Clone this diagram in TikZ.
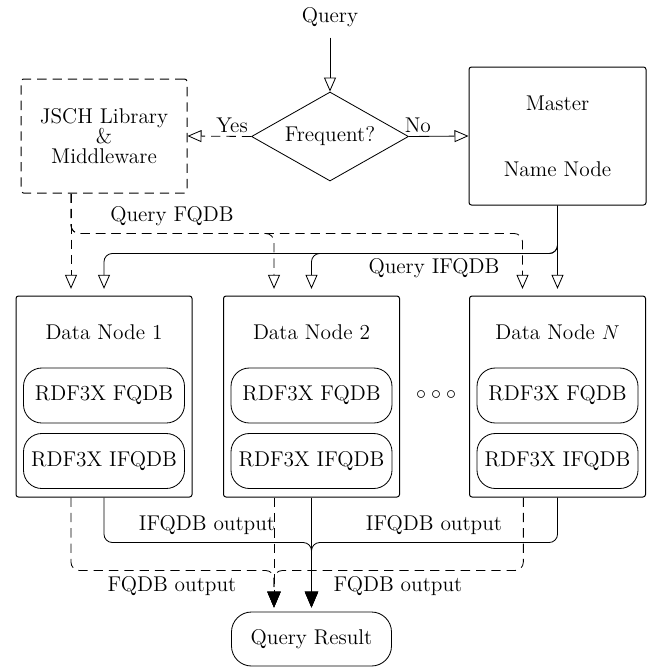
\documentclass[tikz,border=0pt]{standalone}
\usetikzlibrary{arrows.meta,shapes.geometric}
\begin{document}
\begin{tikzpicture}[x=0.6pt,y=-0.6pt,
  line width=0.5pt,
  every node/.style={font=\fontsize{12.8pt}{12pt}\selectfont},
  box/.style={draw, rectangle, rounded corners=1.5pt, line width=0.6pt},
  dsh/.style={dash pattern=on 5.6pt off 3.6pt},
  dbox/.style={box, dsh},
  dnode/.style={box, minimum width=105.6pt, minimum height=120.6pt},
  inbox/.style={draw, rounded corners=11pt, minimum width=96.6pt, minimum height=33pt},
  oarrow/.style={-{Triangle[open,length=8.4pt,width=7.2pt]}},
  farrow/.style={-{Triangle[length=9.6pt,width=8pt]}},
  route/.style={rounded corners=5pt}]
\useasboundingbox (0,0) rectangle (654,667);

% nodes
\node (q) at (330,17) {Query};
\node[draw, diamond, aspect=1.76, inner sep=0pt, minimum width=94.2pt, minimum height=53.4pt] (freq) at (330,136.5) {Frequent?};
\node[dbox, minimum width=99.6pt, minimum height=68.4pt, align=center] (jsch) at (104,136) {JSCH Library\\\&\\Middleware};
\node[box, minimum width=106.2pt, minimum height=82.8pt, align=center] (master) at (557.5,136) {Master\\[27.6pt]Name Node};

\node[dnode] (d1) at (104,396.5) {};
\node[dnode] (d2) at (311.5,396.5) {};
\node[dnode] (dn) at (557.5,396.5) {};
\node (t1) at (104,332) {Data Node 1};
\node (t2) at (311.5,332) {Data Node 2};
\node (tn) at (557.5,332) {Data Node $N$};
\node[inbox] (f1) at (104,395.5) {RDF3X FQDB};
\node[inbox] (i1) at (104,461) {RDF3X IFQDB};
\node[inbox] (f2) at (311.5,395.5) {RDF3X FQDB};
\node[inbox] (i2) at (311.5,461) {RDF3X IFQDB};
\node[inbox] (fn) at (557.5,395.5) {RDF3X FQDB};
\node[inbox] (in) at (557.5,461) {RDF3X IFQDB};
\node (dots) at (436,395) {$\circ$\hspace{3pt}$\circ$\hspace{3pt}$\circ$};

\node[draw, rounded corners=12pt, minimum width=96pt, minimum height=32.4pt] (res) at (311.5,639) {Query Result};

% labels
\node (lqf) at (172,216) {Query FQDB};
\node (lqi) at (434,268) {Query IFQDB};
\node (lio1) at (207,525) {IFQDB output};
\node (lio2) at (434,525) {IFQDB output};
\node (lfo1) at (172,586) {FQDB output};
\node (lfo2) at (398,586) {FQDB output};

% top connectors
\draw[oarrow, shorten <=3pt] (q.south) -- (freq.north);
\draw[oarrow, dsh] (freq.west) -- (jsch.east) node[pos=0.3, above, inner sep=2pt] (lyes) {Yes};
\draw[oarrow] (freq.east) -- (master.west) node[pos=0.15, above, inner sep=2pt] (lno) {No};

\draw[oarrow, dsh, shorten >=4pt] ([xshift=-19.8pt]jsch.south) -- ([xshift=-19.8pt]d1.north);
\draw[oarrow, dsh, route, shorten >=4pt] ([xshift=-19.8pt]jsch.south) -- ++(0,40) -| ([xshift=-22.5pt]d2.north);
\draw[oarrow, dsh, route, shorten >=4pt] ([xshift=-19.8pt]jsch.south) -- ++(0,40) -| ([xshift=-21pt]dn.north);

\draw[oarrow, route, shorten >=4pt] (master.south) -- ++(0,48) -| (d1.north);
\draw[oarrow, route, shorten >=4pt] (master.south) -- ++(0,48) -| (d2.north);
\draw[oarrow, shorten >=4pt] (master.south) -- (dn.north);

% bottom connectors
\draw[farrow, route, shorten >=2.4pt] (d1.south) -- ++(0,45) -| (res.north);
\draw[farrow, shorten >=2.4pt] (d2.south) -- (res.north);
\draw[farrow, route, shorten >=2.4pt] (dn.south) -- ++(0,45) -| (res.north);

\draw[farrow, dsh, route, shorten >=2.4pt] ([xshift=-19.8pt]d1.south) -- ++(0,73) -| ([xshift=-22.5pt]res.north);
\draw[farrow, dsh, shorten >=2.4pt] ([xshift=-22.5pt]d2.south) -- ([xshift=-22.5pt]res.north);
\draw[farrow, dsh, route, shorten >=2.4pt] ([xshift=-20.5pt]dn.south) -- ++(0,73) -| ([xshift=-22.5pt]res.north);
\end{tikzpicture}
\end{document}
